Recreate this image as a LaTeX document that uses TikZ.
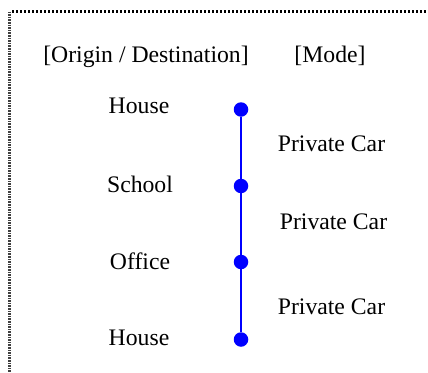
\documentclass[tikz,border=0pt]{standalone}
\usepackage{fontspec}
\setmainfont{Liberation Serif}
\begin{document}
\begin{tikzpicture}[x=1pt,y=-1pt,
  lbl/.style={anchor=base,inner sep=0pt,font=\fontsize{23.7}{28}\selectfont},
  stop/.style={circle,fill=blue,inner sep=0pt,minimum size=14.5pt},
  leg/.style={blue,line width=2pt},
  frametop/.style={line width=2.6pt,dash pattern=on 2.2pt off 1.8pt},
  frameleft/.style={line width=3pt,black!75,dash pattern=on 1.6pt off 1pt}]
\useasboundingbox (0,0) rectangle (428,372);
% partial dotted frame
\coordinate (ftl) at (9.5,11.5);
\coordinate (ftr) at (428,11.5);
\coordinate (fbl) at (9.5,372);
\draw[frametop] (12,11.5) -- (ftr);
\draw[frameleft] (ftl) -- (fbl);
% column headings
\node[lbl] (hplace) at (146,62.5) {[Origin / Destination]};
\node[lbl] (hmode) at (330,62.5) {[Mode]};
% places
\node[lbl] (p1) at (139,113) {House};
\node[lbl] (p2) at (140,192.7) {School};
\node[lbl] (p3) at (140,269.5) {Office};
\node[lbl] (p4) at (139,345.5) {House};
% trip chain
\node[stop] (s1) at (241,109.5) {};
\node[stop] (s2) at (241,186) {};
\node[stop] (s3) at (241,262) {};
\node[stop] (s4) at (241,339.5) {};
\draw[leg] (s1) -- (s2);
\draw[leg] (s2) -- (s3);
\draw[leg] (s3) -- (s4);
% modes
\node[lbl] (m1) at (331.5,151) {Private Car};
\node[lbl] (m2) at (333.5,229) {Private Car};
\node[lbl] (m3) at (331.5,314.7) {Private Car};
\end{tikzpicture}
\end{document}
